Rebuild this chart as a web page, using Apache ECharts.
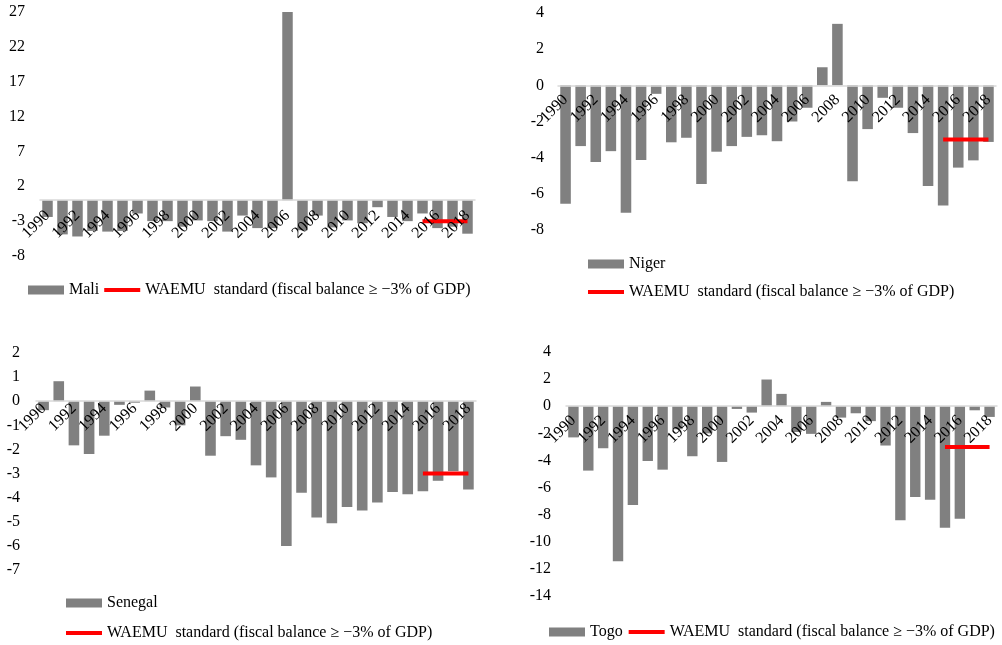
<!DOCTYPE html>
<html>
<head>
<meta charset="utf-8">
<script src="https://cdn.jsdelivr.net/npm/echarts@6/dist/echarts.min.js"></script>
<style>
html,body{margin:0;padding:0;background:#fff;}
#c{width:1002px;height:645px;}
</style>
</head>
<body>
<div id="c"></div>
<script>
const years = ['1990','1991','1992','1993','1994','1995','1996','1997','1998','1999',
  '2000','2001','2002','2003','2004','2005','2006','2007','2008','2009',
  '2010','2011','2012','2013','2014','2015','2016','2017','2018'];

const mali = [-2.4,-4.9,-5.2,-4.4,-4.5,-4.4,-1.9,-3.0,-3.0,-3.8,
  -2.9,-3.0,-4.5,-2.2,-4.0,-4.0,27.0,-4.3,-2.2,-3.9,
  -2.9,-3.3,-1.0,-2.4,-3.0,-1.9,-4.0,-3.8,-4.8];
const niger = [-6.55,-3.36,-4.24,-3.64,-7.04,-4.13,-0.47,-3.15,-2.9,-5.45,
  -3.67,-3.36,-2.85,-2.76,-3.09,-2.0,-1.24,1.0,3.4,-5.3,
  -2.42,-0.69,-1.24,-2.64,-5.56,-6.64,-4.55,-4.15,-3.13];
const senegal = [-0.37,0.83,-1.83,-2.19,-1.43,-0.15,-0.06,0.44,-0.26,-1.0,
  0.61,-2.26,-1.45,-1.6,-2.66,-3.16,-6.0,-3.8,-4.82,-5.06,
  -4.39,-4.53,-4.2,-3.77,-3.86,-3.73,-3.3,-2.9,-3.66];
const togo = [-2.3,-4.75,-3.1,-11.43,-7.29,-4.04,-4.68,-1.7,-3.69,-2.0,
  -4.11,-0.2,-0.47,1.97,0.91,-1.9,-2.04,0.32,-0.84,-0.52,
  -1.1,-2.9,-8.42,-6.7,-6.9,-8.97,-8.3,-0.3,-0.79];

const standardYears = ['2015','2016','2017','2018'];
const standardValue = -3;

const maliTicks = [-8,-3,2,7,12,17,22,27];
const nigerTicks = [-8,-6,-4,-2,0,2,4];
const senegalTicks = [-7,-6,-5,-4,-3,-2,-1,0,1,2];
const togoTicks = [-14,-12,-10,-8,-6,-4,-2,0,2,4];

const stdName = 'WAEMU  standard (fiscal balance \u2265 \u22123% of GDP)';
const FONT = "'Liberation Serif'";
const GRAY = '#808080';
const RED = '#ff0000';

const panels = [
  {name:'Mali', data:mali, ticks:maliTicks, grid:{left:40, top:12, width:435, height:244}, margin:15, xMargin:13},
  {name:'Niger', data:niger, ticks:nigerTicks, grid:{left:558, top:13, width:438, height:217}, margin:14, xMargin:12},
  {name:'Senegal', data:senegal, ticks:senegalTicks, grid:{left:36, top:353, width:440, height:217}, margin:16, xMargin:5},
  {name:'Togo', data:togo, ticks:togoTicks, grid:{left:566, top:352, width:431, height:244}, margin:15, xMargin:12}
];

const grid = [], xAxis = [], yAxis = [], series = [];
panels.forEach((p, i) => {
  const lo = p.ticks[0], hi = p.ticks[p.ticks.length-1];
  // place the category axis (line + labels) at value 0
  const zeroOffset = -((0 - lo) / (hi - lo)) * p.grid.height;
  grid.push(Object.assign({containLabel:false}, p.grid));
  xAxis.push({
    type:'category', gridIndex:i, data:years, position:'bottom', offset:zeroOffset,
    axisLine:{show:true, onZero:false, lineStyle:{color:'#d9d9d9', width:1.5}},
    axisTick:{show:false},
    axisLabel:{interval:1, rotate:45, margin:p.xMargin, color:'#000', fontFamily:FONT, fontSize:16},
    splitLine:{show:false}, z:6
  });
  yAxis.push({
    type:'value', gridIndex:i, min:lo, max:hi,
    axisLine:{show:false}, axisTick:{show:false}, splitLine:{show:false},
    axisLabel:{customValues:p.ticks, margin:p.margin, color:'#000', fontFamily:FONT, fontSize:16}
  });
  series.push({
    name:p.name, type:'bar', xAxisIndex:i, yAxisIndex:i, data:p.data,
    barCategoryGap:'30%', itemStyle:{color:GRAY}, z:2
  });
  series.push({
    name:stdName, type:'line', xAxisIndex:i, yAxisIndex:i,
    data:standardYears.map(y => [y, standardValue]),
    symbol:'none', lineStyle:{color:RED, width:4}, itemStyle:{color:RED}, z:4
  });
});

const lineIcon = 'path://M0,0H36V4H0Z';
const legendBase = {
  padding:0, itemWidth:36, itemHeight:9, selectedMode:false,
  textStyle:{color:'#000', fontFamily:FONT, fontSize:16, lineHeight:18}
};
function legendFor(country, extra){
  return Object.assign({}, legendBase, {
    data:[{name:country, icon:'rect', itemStyle:{color:GRAY}},
          {name:stdName, icon:lineIcon, itemStyle:{color:RED}}]
  }, extra);
}

const option = {
  animation:false,
  backgroundColor:'#fff',
  grid, xAxis, yAxis, series,
  legend:[
    legendFor('Mali', {orient:'horizontal', left:28, top:281, itemGap:5}),
    legendFor('Niger', {orient:'vertical', left:588, top:255, itemGap:10}),
    legendFor('Senegal', {orient:'vertical', left:66, top:594, itemGap:12}),
    legendFor('Togo', {orient:'horizontal', left:549, top:623, itemGap:6})
  ]
};

const chart = echarts.init(document.getElementById('c'), null, {renderer:'canvas'});
chart.setOption(option);
</script>
</body>
</html>
